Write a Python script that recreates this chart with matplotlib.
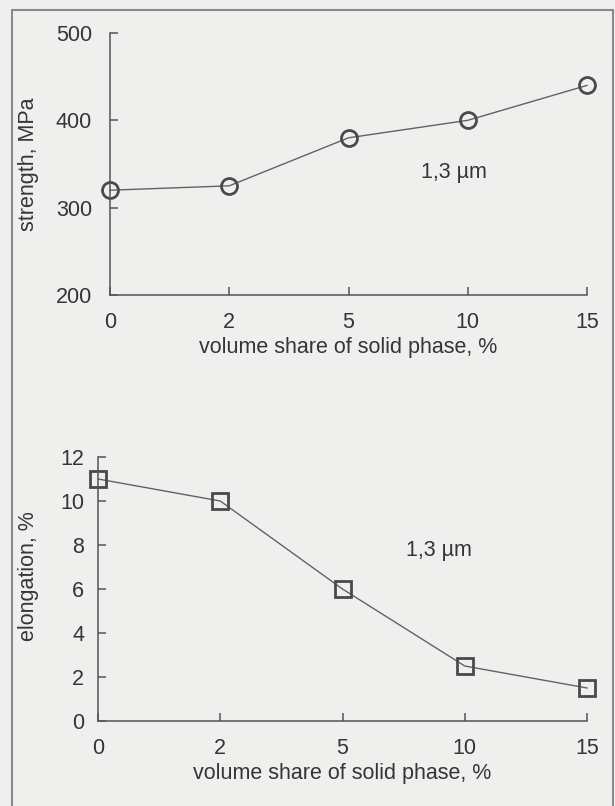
import matplotlib.pyplot as plt
from matplotlib.patches import Rectangle

share = ['0', '2', '5', '10', '15']
strength = [320, 325, 380, 400, 440]
elongation = [11.0, 10.0, 6.0, 2.5, 1.5]

bg = '#efefed'
ink = '#353535'
line_c = '#626262'
fs = 15.5

plt.rcParams['font.family'] = ['Liberation Sans', 'DejaVu Sans']
plt.rcParams['font.size'] = fs

W, H = 615, 806
fig = plt.figure(figsize=(W / 100, H / 100), dpi=100, facecolor=bg)

# page frame
fig.patches.append(Rectangle((12 / W, -0.1), 601 / W, 1.1 - 10 / H, transform=fig.transFigure,
                             fill=False, edgecolor='#8a8a8a', linewidth=1.5))


def box(x0, x1, y_top, y_bot):
    return [x0 / W, 1 - y_bot / H, (x1 - x0) / W, (y_bot - y_top) / H]


def style(ax, ylim, yticks, ylabel, ypad):
    pos = list(range(len(share)))
    ax.set_facecolor('none')
    ax.set_xlim(0, len(share) - 1)
    ax.set_ylim(*ylim)
    ax.set_xticks(pos)
    ax.set_xticklabels(share)
    ax.set_yticks(yticks)
    for s in ['top', 'right']:
        ax.spines[s].set_visible(False)
    for s in ['left', 'bottom']:
        ax.spines[s].set_color('#555555')
        ax.spines[s].set_linewidth(1.1)
    ax.tick_params(direction='in', length=6, width=1.1, color='#555555', labelcolor=ink, labelsize=fs)
    ax.tick_params(axis='x', pad=12)
    ax.tick_params(axis='y', pad=ypad)
    ax.set_ylabel(ylabel, color=ink, fontsize=fs)
    ax.set_xlabel('volume share of solid phase, %', color=ink, fontsize=fs, labelpad=3)


x = range(len(share))

# strength
ax1 = fig.add_axes(box(110, 587, 33, 295))
ax1.plot(x, strength, color=line_c, lw=1.0, marker='o', ms=11.5, mfc='none',
         mec='#4a4a4a', mew=2.0, clip_on=False)
style(ax1, (200, 500), [200, 300, 400, 500], 'strength, MPa', 13)
ax1.yaxis.set_label_coords((39 - 110) / 477, 0.5)
ax1.text(2.88, 340, '1,3 µm', color=ink, fontsize=fs, ha='center', va='center')

# elongation
ax2 = fig.add_axes(box(98, 587, 457, 721))
ax2.plot(x, elongation, color=line_c, lw=1.0, marker='s', ms=11, mfc='none',
         mec='#4a4a4a', mew=2.0, clip_on=False)
style(ax2, (0, 12), [0, 2, 4, 6, 8, 10, 12], 'elongation, %', 10)
ax2.yaxis.set_label_coords((39 - 98) / 489, 0.55)
ax2.text(2.79, 7.77, '1,3 µm', color=ink, fontsize=fs, ha='center', va='center')

fig.savefig('out.png', dpi=100, facecolor=bg)
